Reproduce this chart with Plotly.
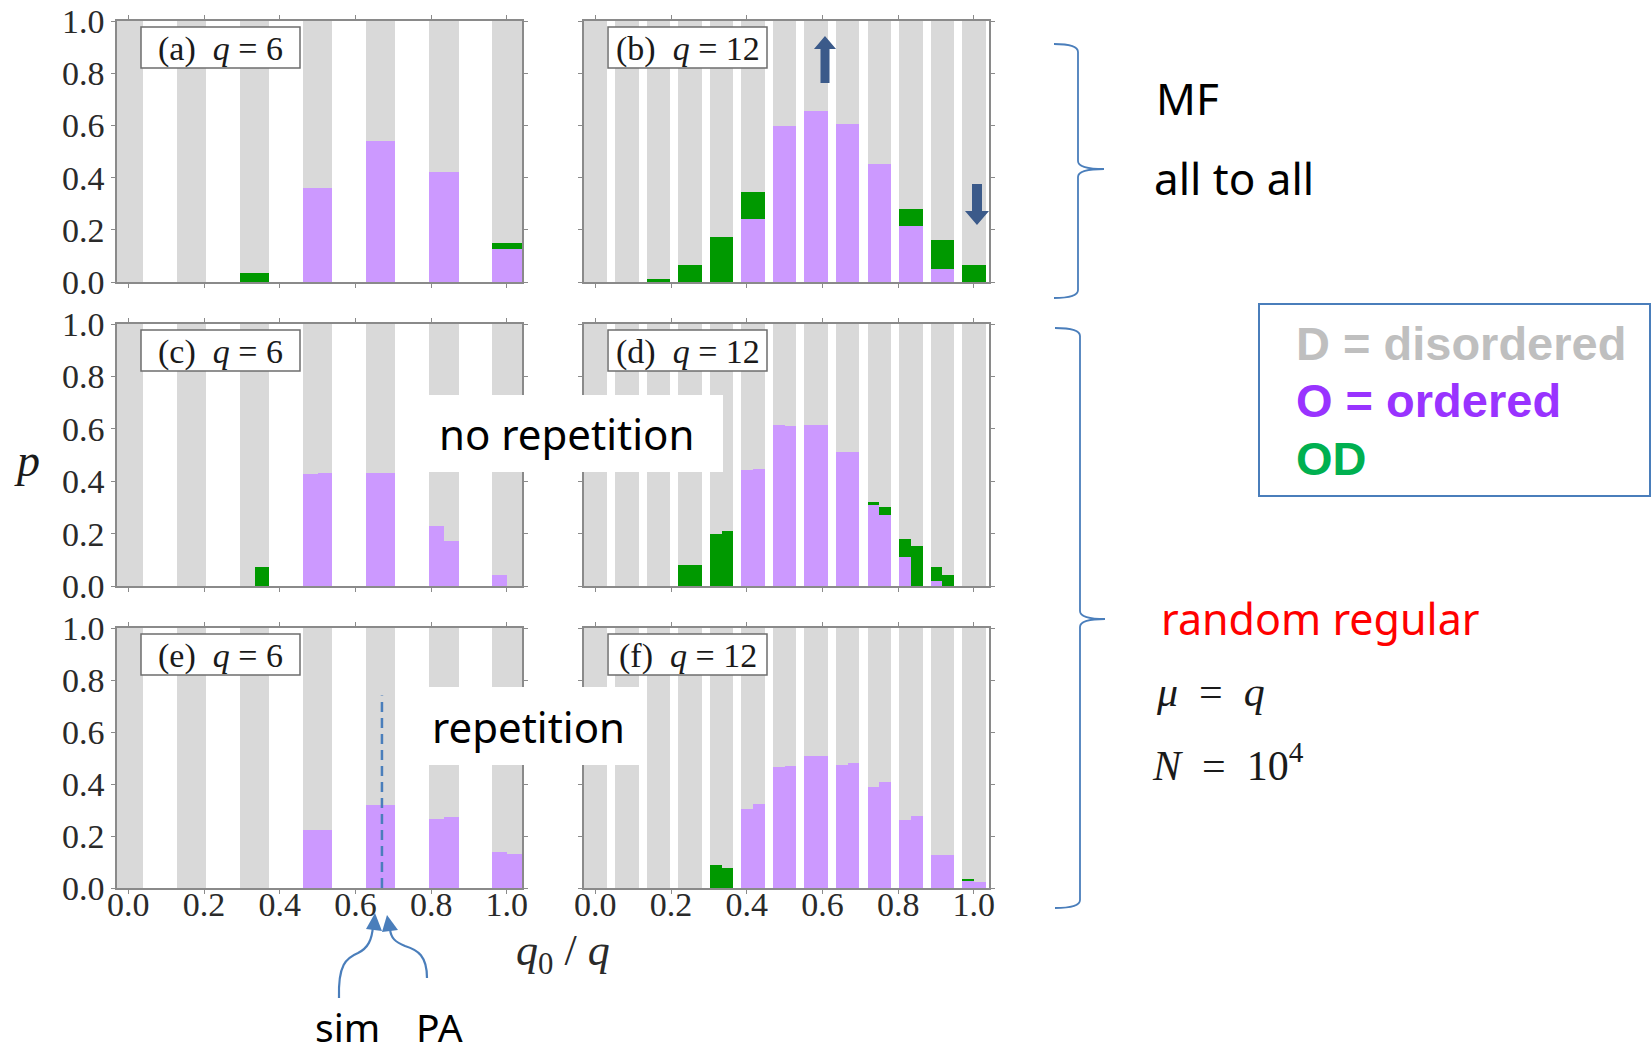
import plotly.graph_objects as go

W, H = 1652, 1046

GRAY = "#D9D9D9"
PURPLE = "#CC99FF"
GREEN = "#009900"
BLUE = "#4A7EBB"
ARROW = "#3B5A8A"

# ---------------- data ----------------
k6 = [0, 1, 2, 3, 4, 5, 6]
k12 = [0, 1, 2, 3, 4, 5, 6, 7, 8, 9, 10, 11, 12]
tick_vals = [0.0, 0.2, 0.4, 0.6, 0.8, 1.0]
tick_text = ["0.0", "0.2", "0.4", "0.6", "0.8", "1.0"]

# (a) MF, q = 6
a_O = [0, 0, 0, 0.36, 0.54, 0.42, 0.128]
a_OD = [0, 0, 0.036, 0, 0, 0, 0.022]
# (b) MF, q = 12
b_O = [0, 0, 0, 0, 0, 0.24, 0.597, 0.657, 0.605, 0.451, 0.216, 0.051, 0]
b_OD = [0, 0, 0.012, 0.066, 0.173, 0.105, 0, 0, 0, 0, 0.065, 0.109, 0.066]
# (c) random regular, no repetition, q = 6 (left / right half-bars)
c_O_L = [0, 0, 0, 0.428, 0.43, 0.228, 0.041]
c_OD_L = [0, 0, 0, 0, 0, 0, 0]
c_O_R = [0, 0, 0, 0.43, 0.43, 0.172, 0]
c_OD_R = [0, 0, 0.073, 0, 0, 0, 0]
# (d) random regular, no repetition, q = 12
d_O_L = [0, 0, 0, 0, 0, 0.442, 0.614, 0.615, 0.512, 0.308, 0.111, 0.018, 0]
d_OD_L = [0, 0, 0, 0.081, 0.2, 0, 0, 0, 0, 0.013, 0.067, 0.055, 0]
d_O_R = [0, 0, 0, 0, 0, 0.448, 0.611, 0.615, 0.51, 0.27, 0, 0, 0]
d_OD_R = [0, 0, 0, 0.081, 0.21, 0, 0, 0, 0, 0.03, 0.153, 0.041, 0]
# (e) random regular, repetition, q = 6
e_O_L = [0, 0, 0, 0.224, 0.32, 0.267, 0.138]
e_OD_L = [0, 0, 0, 0, 0, 0, 0]
e_O_R = [0, 0, 0, 0.222, 0.32, 0.272, 0.131]
e_OD_R = [0, 0, 0, 0, 0, 0, 0]
# (f) random regular, repetition, q = 12
f_O_L = [0, 0, 0, 0, 0, 0.304, 0.465, 0.506, 0.472, 0.388, 0.26, 0.126, 0.028]
f_OD_L = [0, 0, 0, 0, 0.087, 0, 0, 0, 0, 0, 0, 0, 0.007]
f_O_R = [0, 0, 0, 0, 0, 0.324, 0.47, 0.506, 0.481, 0.406, 0.278, 0.128, 0.022]
f_OD_R = [0, 0, 0, 0, 0.077, 0, 0, 0, 0, 0, 0, 0, 0]

pa_line_x = 0.67
pa_line_top = 0.74

# ---------------- layout helpers ----------------
def PX(x):
    return x / W


def PY(y):
    return 1 - y / H


col_px = {"L": (117, 522), "R": (584, 989)}
row_px = {1: (21, 282), 2: (324, 586), 3: (628, 888)}

panels = [
    dict(n=1, lab="a", q=6, k=k6, col="L", row=1, halves=False, O=a_O, OD=a_OD),
    dict(n=2, lab="b", q=12, k=k12, col="R", row=1, halves=False, O=b_O, OD=b_OD),
    dict(n=3, lab="c", q=6, k=k6, col="L", row=2, halves=True,
         O=(c_O_L, c_O_R), OD=(c_OD_L, c_OD_R)),
    dict(n=4, lab="d", q=12, k=k12, col="R", row=2, halves=True,
         O=(d_O_L, d_O_R), OD=(d_OD_L, d_OD_R)),
    dict(n=5, lab="e", q=6, k=k6, col="L", row=3, halves=True,
         O=(e_O_L, e_O_R), OD=(e_OD_L, e_OD_R)),
    dict(n=6, lab="f", q=12, k=k12, col="R", row=3, halves=True,
         O=(f_O_L, f_O_R), OD=(f_OD_L, f_OD_R)),
]

fig = go.Figure()
layout = dict(
    width=W, height=H, margin=dict(l=0, r=0, t=0, b=0, pad=0, autoexpand=False),
    paper_bgcolor="white", plot_bgcolor="white",
    barmode="stack", showlegend=False,
)
shapes = []
annotations = []

serif = "Liberation Serif"
sans = "Noto Sans"


def add_stack(xs, width, O, OD, xa, ya):
    D = [max(0.0, 1 - o - d) for o, d in zip(O, OD)]
    for vals, colr in ((O, PURPLE), (OD, GREEN), (D, GRAY)):
        fig.add_trace(go.Bar(
            x=xs, y=vals, width=[width] * len(xs), xaxis=xa, yaxis=ya,
            marker=dict(color=colr, line=dict(width=0)),
            hoverinfo="skip",
        ))


for p in panels:
    n = p["n"]
    xa = "x" if n == 1 else f"x{n}"
    ya = "y" if n == 1 else f"y{n}"
    q = p["q"]
    w = 0.078 if q == 6 else 0.062
    centers = [kk / q for kk in p["k"]]
    if not p["halves"]:
        add_stack(centers, w, p["O"], p["OD"], xa, ya)
    else:
        add_stack([c - w / 4 for c in centers], w / 2, p["O"][0], p["OD"][0], xa, ya)
        add_stack([c + w / 4 for c in centers], w / 2, p["O"][1], p["OD"][1], xa, ya)

    cx0, cx1 = col_px[p["col"]]
    ry0, ry1 = row_px[p["row"]]
    xkey = "xaxis" if n == 1 else f"xaxis{n}"
    ykey = "yaxis" if n == 1 else f"yaxis{n}"
    axis_common = dict(
        showline=True, linecolor="#8a8a8a", linewidth=1.5, mirror="allticks",
        ticks="outside", ticklen=4, tickcolor="#8a8a8a", tickwidth=1.2,
        showgrid=False, zeroline=False, fixedrange=True, automargin=False,
        tickfont=dict(family=serif, size=34, color="#2a2a2a"),
    )
    layout[xkey] = dict(
        axis_common, domain=[PX(cx0), PX(cx1)], anchor=ya, range=[-0.03, 1.04],
        tickmode="array", tickvals=tick_vals, ticktext=tick_text,
        showticklabels=(p["row"] == 3), ticklabelstandoff=-19,
    )
    layout[ykey] = dict(
        axis_common, domain=[PY(ry1), PY(ry0)], anchor=xa, range=[0, 1],
        tickmode="array", tickvals=tick_vals, ticktext=tick_text,
        showticklabels=(p["col"] == "L"),
    )

    # panel label box
    bx0, bx1 = cx0 + 24, cx0 + 183
    by0, by1 = ry0 + 6, ry0 + 47
    shapes.append(dict(type="rect", xref="paper", yref="paper",
                       x0=PX(bx0), x1=PX(bx1), y0=PY(by1), y1=PY(by0),
                       line=dict(color="#6e6e6e", width=1.5), fillcolor="white",
                       layer="above"))
    annotations.append(dict(
        xref="paper", yref="paper", x=PX((bx0 + bx1) / 2), y=PY((by0 + by1) / 2 + 1),
        text=f"({p['lab']})&nbsp;&nbsp;<i>q</i> = {q}", showarrow=False,
        font=dict(family=serif, size=34, color="#1a1a1a"),
        xanchor="center", yanchor="middle",
    ))

# dashed line in (e)
shapes.append(dict(type="line", xref="x5", yref="y5", x0=pa_line_x, x1=pa_line_x,
                   y0=0, y1=pa_line_top,
                   line=dict(color=BLUE, width=2.5, dash="10px,6px"),
                   layer="above"))

# white boxes with text
for (x0, y0, x1, y1) in [(427, 395, 723, 472), (427, 687, 646, 765)]:
    shapes.append(dict(type="rect", xref="paper", yref="paper",
                       x0=PX(x0), x1=PX(x1), y0=PY(y1), y1=PY(y0),
                       line=dict(width=0), fillcolor="white", layer="above"))


def path(points, close=False):
    s = ""
    for pt in points:
        if isinstance(pt, str):
            s += pt + " "
        else:
            s += f"{PX(pt[0]):.5f},{PY(pt[1]):.5f} "
    return s.strip() + (" Z" if close else "")


# curly braces
def brace(top, bot, tip, xl, xv, xt):
    pts = ["M", (xl, top), "Q", (xv, top), (xv, top + 8), "L", (xv, tip - 8),
           "Q", (xv, tip), (xt, tip), "Q", (xv, tip), (xv, tip + 8),
           "L", (xv, bot - 8), "Q", (xv, bot), (xl, bot)]
    return path(pts)


shapes.append(dict(type="path", xref="paper", yref="paper",
                   path=brace(44, 298, 169, 1054, 1078, 1104),
                   line=dict(color=BLUE, width=1.8), layer="above"))
shapes.append(dict(type="path", xref="paper", yref="paper",
                   path=brace(328, 908, 619, 1055, 1080, 1105),
                   line=dict(color=BLUE, width=1.8), layer="above"))

# legend box
shapes.append(dict(type="rect", xref="paper", yref="paper",
                   x0=PX(1259), x1=PX(1650), y0=PY(496), y1=PY(304),
                   line=dict(color=BLUE, width=2), fillcolor="white", layer="above"))

# up / down arrows in (b)
shapes.append(dict(type="path", xref="paper", yref="paper",
                   path=path(["M", (825, 36), "L", (836, 49), "L", (829.5, 49),
                              "L", (829.5, 83), "L", (820.5, 83), "L", (820.5, 49),
                              "L", (814, 49)], close=True),
                   fillcolor=ARROW, line=dict(width=0), layer="above"))
shapes.append(dict(type="path", xref="paper", yref="paper",
                   path=path(["M", (977, 225), "L", (989, 211), "L", (982, 211),
                              "L", (982, 184), "L", (972, 184), "L", (972, 211),
                              "L", (965, 211)], close=True),
                   fillcolor=ARROW, line=dict(width=0), layer="above"))

# curved arrows for sim / PA
shapes.append(dict(type="path", xref="paper", yref="paper",
                   path=path(["M", (339, 998), "C", (338, 965), (346, 958), (358, 953),
                              "C", (368, 948), (372, 940), (373, 926)]),
                   line=dict(color=BLUE, width=2.2), layer="above"))
shapes.append(dict(type="path", xref="paper", yref="paper",
                   path=path(["M", (375, 913), "L", (382, 931), "L", (366, 929)], close=True),
                   fillcolor=BLUE, line=dict(width=0), layer="above"))
shapes.append(dict(type="path", xref="paper", yref="paper",
                   path=path(["M", (427, 978), "C", (427, 956), (418, 950), (405, 946),
                              "C", (395, 942), (391, 938), (390, 929)]),
                   line=dict(color=BLUE, width=2.2), layer="above"))
shapes.append(dict(type="path", xref="paper", yref="paper",
                   path=path(["M", (387, 915), "L", (398, 930), "L", (382, 932)], close=True),
                   fillcolor=BLUE, line=dict(width=0), layer="above"))


def note(x, y, text, family, size, color="black", xanchor="center"):
    annotations.append(dict(xref="paper", yref="paper", x=PX(x), y=PY(y), text=text,
                            showarrow=False, xanchor=xanchor, yanchor="middle",
                            font=dict(family=family, size=size, color=color)))


note(27, 460, "<i>p</i>", serif, 46, "#1a1a1a")
note(563, 953, "<i>q</i><sub>0</sub> / <i>q</i>", serif, 44, "#2a2a2a")
note(566, 433, "no repetition", sans, 42)
note(528, 726, "repetition", sans, 42)
note(1154, 98, "MF", sans, 44, xanchor="left")
note(1152, 178, "all to all", sans, 44, xanchor="left")
note(1294, 343, "<b>D = disordered</b>", "Liberation Sans", 47, "#BFBFBF", xanchor="left")
note(1294, 401, "<b>O = ordered</b>", "Liberation Sans", 47, "#9933FF", xanchor="left")
note(1294, 458, "<b>OD</b>", "Liberation Sans", 47, "#00B050", xanchor="left")
note(1159, 618, "random regular", sans, 43, "#FF0000", xanchor="left")
note(1154, 692, "<i>μ</i>&nbsp;&nbsp;=&nbsp;&nbsp;<i>q</i>", serif, 42, "#1a1a1a",
     xanchor="left")
note(1150, 762, "<i>N</i>&nbsp;&nbsp;=&nbsp;&nbsp;10<sup>4</sup>", serif, 42, "#1a1a1a",
     xanchor="left")
note(347, 1026, "sim", sans, 39)
note(439, 1026, "PA", sans, 39)

layout["shapes"] = shapes
layout["annotations"] = annotations
fig.update_layout(**layout)
fig.write_html("out.html")
